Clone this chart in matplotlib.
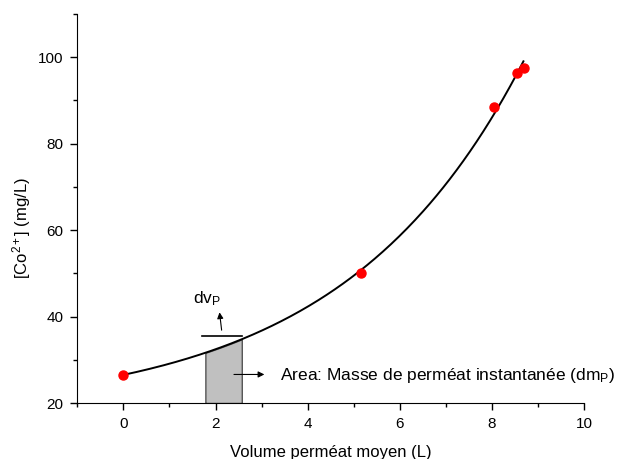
import numpy as np
import matplotlib
matplotlib.use("Agg")
import matplotlib.pyplot as plt
from matplotlib.ticker import MultipleLocator

plt.rcParams["font.family"] = ["Liberation Sans", "DejaVu Sans"]
plt.rcParams["mathtext.fontset"] = "custom"
plt.rcParams["mathtext.rm"] = "Liberation Sans"
plt.rcParams["mathtext.it"] = "Liberation Sans:italic"

# measured points
volume = [0.0, 5.15, 8.04, 8.55, 8.70]
conc = [26.5, 50.1, 88.4, 96.4, 97.4]

# exponential fit shown in the figure: y = A + B*exp(k*x)
fit_A, fit_B, fit_k = 17.6, 8.9, 0.255
fit_range = (0.0, 8.68)

# slice used to illustrate dm_P
slice_x = (1.78, 2.57)
dv_line_x = (1.70, 2.57)
dv_line_y = 35.6


def fit(v):
    return fit_A + fit_B * np.exp(fit_k * v)


fig = plt.figure(figsize=(6.33, 4.59), dpi=100)
ax = fig.add_axes([0.122, 0.122, 0.801, 0.848])

xs = np.linspace(fit_range[0], fit_range[1], 300)
ax.plot(xs, fit(xs), color="black", lw=1.4, zorder=3)

xb = np.linspace(slice_x[0], slice_x[1], 50)
ax.fill_between(xb, 20, fit(xb), facecolor="#c0c0c0", edgecolor="#555555", lw=1.0, zorder=2)

ax.plot(volume, conc, "o", color="red", ms=6.5, zorder=4)

ax.plot(dv_line_x, [dv_line_y, dv_line_y], color="black", lw=1.2)
ax.annotate("", xy=(2.08, 41.6), xytext=(2.14, 36.2),
            arrowprops=dict(arrowstyle="-|>", color="black", lw=0.8, mutation_scale=9))
ax.text(1.52, 43.0, "dv$_{\\mathrm{P}}$", fontsize=12.5)

ax.annotate("", xy=(3.12, 26.6), xytext=(2.34, 26.6),
            arrowprops=dict(arrowstyle="-|>", color="black", lw=0.8, mutation_scale=9))
ax.text(3.40, 26.4, "Area: Masse de perméat instantanée (dm$_{\\mathrm{P}}$)",
        fontsize=12.5, va="center")

ax.set_xlim(-1, 10)
ax.set_ylim(20, 110)
ax.xaxis.set_minor_locator(MultipleLocator(1))
ax.yaxis.set_minor_locator(MultipleLocator(10))
ax.set_xticks([0, 2, 4, 6, 8, 10])
ax.set_yticks([20, 40, 60, 80, 100])
ax.tick_params(which="major", direction="out", length=5, width=1, labelsize=11, pad=5)
ax.tick_params(which="minor", direction="out", length=3, width=1)
ax.spines["top"].set_visible(False)
ax.spines["right"].set_visible(False)

ax.set_xlabel("Volume perméat moyen (L)", fontsize=12, labelpad=10)
ax.set_ylabel("[Co$^{2+}$] (mg/L)", fontsize=12)
ax.yaxis.set_label_coords(-0.087, 0.45)

fig.savefig("out.png", dpi=100)
